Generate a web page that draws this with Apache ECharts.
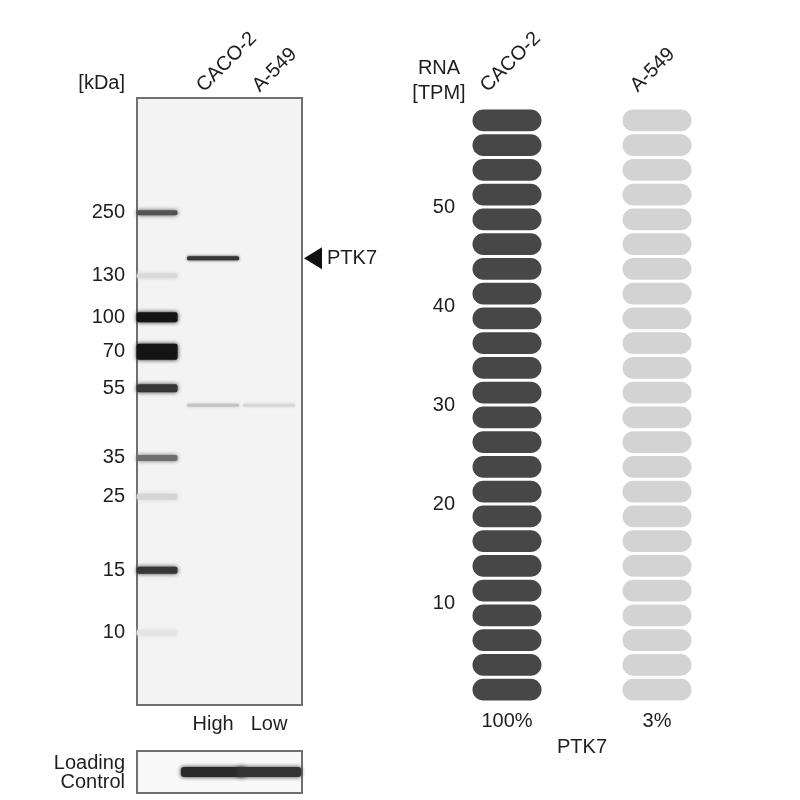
<!DOCTYPE html>
<html><head><meta charset="utf-8">
<script src="https://cdn.jsdelivr.net/npm/echarts@6/dist/echarts.min.js"></script>
<style>html,body{margin:0;padding:0;background:#fff}#c{width:800px;height:800px}</style>
</head><body><div id="c"></div>
<script>
// ---------------- DATA ----------------
const laneNames = ['Ladder', 'CACO-2', 'A-549'];
const laneExpression = ['', 'High', 'Low'];
const ladderKDa = [250, 130, 100, 70, 55, 35, 25, 15, 10];
const ladderMigration = [18.9, 29.3, 36.1, 41.8, 47.8, 59.3, 65.7, 77.8, 88.1];
const ladderIntensity = [0.72, 0.12, 1.0, 1.0, 0.85, 0.6, 0.14, 0.85, 0.07];
const sampleBandLane = [1, 1, 2];
const sampleBandMigration = [26.4, 50.6, 50.6];
const sampleBandIntensity = [0.85, 0.22, 0.13];
const targetName = 'PTK7';
const targetBandIndex = 0;
const loadingLane = [1, 2];
const loadingIntensity = [0.9, 0.86];

const rnaCells = ['CACO-2', 'A-549'];
const rnaTPM = [60, 1.8];
const rnaPercent = ['100%', '3%'];
const rnaTicks = [10, 20, 30, 40, 50];
const rnaAxisMax = 60;
const rnaPillStep = 2.5;

// ---------------- STYLE ----------------
const STYLE = {
  ladderWidth: 0.73,
  ladderThickness: [5, 5, 10, 16, 8, 6, 6, 7, 6],
  sampleWidth: 0.93,
  sampleThickness: [4, 3, 3],
  loadingWidth: 1.15,
  loadingThickness: 10,
  pillWidth: 69,
  pillGap: 3,
  dark: '#474747',
  light: '#d3d3d3'
};
const FONT = '"Liberation Sans", Arial, sans-serif';
const FS = 20;
const TXT = '#1e1e1e';
function gray(i) { const v = Math.round(244 - i * (244 - 20)); return 'rgb(' + v + ',' + v + ',' + v + ')'; }
function nearestIdx(arr, v) { let b = 0; arr.forEach((a, i) => { if (Math.abs(a - v) < Math.abs(arr[b] - v)) b = i; }); return b; }

const chart = echarts.init(document.getElementById('c'), null, { renderer: 'canvas' });

const option = {
  animation: false,
  backgroundColor: '#fff',
  grid: [
    { left: 137, top: 98, width: 165, height: 607, show: true, backgroundColor: '#f3f3f3', borderColor: '#707070', borderWidth: 2 },
    { left: 137, top: 751, width: 165, height: 42, show: true, backgroundColor: '#f8f8f8', borderColor: '#707070', borderWidth: 2 },
    { left: 507, top: 108, width: 150, height: 594, show: false }
  ],
  xAxis: [
    { gridIndex: 0, type: 'value', min: -0.36, max: 2.59, position: 'bottom',
      axisLine: { show: false }, axisTick: { show: false }, splitLine: { show: false },
      axisLabel: { customValues: [1, 2], formatter: v => laneExpression[Math.round(v)], margin: 9,
        fontSize: FS, fontFamily: FONT, color: TXT } },
    { gridIndex: 1, type: 'value', min: -0.36, max: 2.59, show: false },
    { gridIndex: 2, type: 'category', data: rnaCells, boundaryGap: false, position: 'bottom',
      axisLine: { show: false }, axisTick: { show: false }, splitLine: { show: false },
      axisLabel: { formatter: (v, i) => rnaPercent[i], margin: 9, fontSize: FS, fontFamily: FONT, color: TXT },
      name: targetName, nameLocation: 'middle', nameGap: 35,
      nameTextStyle: { fontSize: FS, fontFamily: FONT, color: TXT } }
  ],
  yAxis: [
    { gridIndex: 0, type: 'value', inverse: true, min: 0, max: 100,
      axisLine: { show: false }, axisTick: { show: false }, splitLine: { show: false },
      axisLabel: { customValues: ladderMigration, formatter: v => String(ladderKDa[nearestIdx(ladderMigration, v)]),
        margin: 12, fontSize: FS, fontFamily: FONT, color: TXT } },
    { gridIndex: 1, type: 'value', min: 0, max: 1, show: false },
    { gridIndex: 2, type: 'value', min: 0, max: rnaAxisMax,
      axisLine: { show: false }, axisTick: { show: false }, splitLine: { show: false },
      axisLabel: { customValues: rnaTicks, margin: 52, fontSize: FS, fontFamily: FONT, color: TXT } }
  ],
  series: [
    { // ladder
      type: 'custom', xAxisIndex: 0, yAxisIndex: 0,
      data: ladderKDa.map((k, i) => [0, ladderMigration[i], i, ladderIntensity[i]]),
      encode: { x: 0, y: 1 },
      renderItem: (params, api) => {
        const i = api.value(2);
        const c = api.coord([api.value(0), api.value(1)]);
        const w = api.size([STYLE.ladderWidth, 0])[0];
        const h = STYLE.ladderThickness[i];
        const col = gray(api.value(3));
        return { type: 'rect', shape: { x: c[0] - w / 2, y: c[1] - h / 2, width: w, height: h, r: 2 },
          style: { fill: col, shadowBlur: 4, shadowColor: col } };
      }
    },
    { // sample bands
      type: 'custom', xAxisIndex: 0, yAxisIndex: 0,
      data: sampleBandLane.map((l, i) => [l, sampleBandMigration[i], i, sampleBandIntensity[i]]),
      encode: { x: 0, y: 1 },
      renderItem: (params, api) => {
        const i = api.value(2);
        const c = api.coord([api.value(0), api.value(1)]);
        const w = api.size([STYLE.sampleWidth, 0])[0];
        const h = STYLE.sampleThickness[i];
        const col = gray(api.value(3));
        const children = [{ type: 'rect', shape: { x: c[0] - w / 2, y: c[1] - h / 2, width: w, height: h, r: 1.5 },
          style: { fill: col, shadowBlur: 3, shadowColor: col } }];
        if (i === targetBandIndex) {
          const rx = params.coordSys.x + params.coordSys.width;
          children.push({ type: 'polygon', shape: { points: [[rx + 2, c[1]], [rx + 20, c[1] - 11], [rx + 20, c[1] + 11]] },
            style: { fill: '#111' } });
          children.push({ type: 'text', x: rx + 25, y: c[1], style: { text: targetName, font: FS + 'px ' + FONT,
            fill: TXT, textAlign: 'left', textVerticalAlign: 'middle' } });
        }
        return { type: 'group', children };
      }
    },
    { // loading control
      type: 'custom', xAxisIndex: 1, yAxisIndex: 1,
      data: loadingLane.map((l, i) => [l, 0.5, loadingIntensity[i]]),
      encode: { x: 0, y: 1 },
      renderItem: (params, api) => {
        const c = api.coord([api.value(0), api.value(1)]);
        const w = api.size([STYLE.loadingWidth, 0])[0];
        const h = STYLE.loadingThickness;
        const col = gray(api.value(2));
        const cs = params.coordSys;
        const x0 = Math.max(c[0] - w / 2, cs.x), x1 = Math.min(c[0] + w / 2, cs.x + cs.width);
        return { type: 'rect', shape: { x: x0, y: c[1] - h / 2, width: x1 - x0, height: h, r: 3 },
          style: { fill: col, shadowBlur: 4, shadowColor: col } };
      }
    },
    { // RNA pills
      type: 'custom', xAxisIndex: 2, yAxisIndex: 2,
      data: rnaCells.map((c, i) => [i, rnaTPM[i]]),
      encode: { x: 0, y: 1 },
      renderItem: (params, api) => {
        const cell = api.value(0), tpm = api.value(1);
        const n = Math.round(rnaAxisMax / rnaPillStep);
        const children = [];
        for (let k = 0; k < n; k++) {
          const lo = k * rnaPillStep, hi = (k + 1) * rnaPillStep;
          const pTop = api.coord([cell, hi]);
          const pBot = api.coord([cell, lo]);
          const h = (pBot[1] - pTop[1]) - STYLE.pillGap;
          const w = STYLE.pillWidth;
          const filled = tpm >= hi - 1e-6;
          children.push({ type: 'rect', shape: { x: pTop[0] - w / 2, y: pTop[1] + STYLE.pillGap / 2, width: w, height: h, r: h / 2 },
            style: { fill: filled ? STYLE.dark : STYLE.light } });
        }
        return { type: 'group', children };
      }
    }
  ]
};
chart.setOption(option);

// headers & rotated lane names
const gfx = [];
gfx.push({ type: 'text', x: 125, y: 83, style: { text: '[kDa]', font: FS + 'px ' + FONT, fill: TXT, textAlign: 'right', textVerticalAlign: 'middle' } });
gfx.push({ type: 'text', x: 125, y: 763, style: { text: 'Loading', font: FS + 'px ' + FONT, fill: TXT, textAlign: 'right', textVerticalAlign: 'middle' } });
gfx.push({ type: 'text', x: 125, y: 782, style: { text: 'Control', font: FS + 'px ' + FONT, fill: TXT, textAlign: 'right', textVerticalAlign: 'middle' } });
gfx.push({ type: 'text', x: 439, y: 68, style: { text: 'RNA', font: FS + 'px ' + FONT, fill: TXT, textAlign: 'center', textVerticalAlign: 'middle' } });
gfx.push({ type: 'text', x: 439, y: 93, style: { text: '[TPM]', font: FS + 'px ' + FONT, fill: TXT, textAlign: 'center', textVerticalAlign: 'middle' } });
[1, 2].forEach(l => {
  const px = chart.convertToPixel({ xAxisIndex: 0 }, l);
  gfx.push({ type: 'text', x: px - 6, y: 96, rotation: Math.PI / 4,
    style: { text: laneNames[l], font: FS + 'px ' + FONT, fill: TXT, textAlign: 'left', textVerticalAlign: 'bottom' } });
});
rnaCells.forEach((c, i) => {
  const px = chart.convertToPixel({ xAxisIndex: 2 }, i);
  gfx.push({ type: 'text', x: px - 16, y: 96, rotation: Math.PI / 4,
    style: { text: c, font: FS + 'px ' + FONT, fill: TXT, textAlign: 'left', textVerticalAlign: 'bottom' } });
});
chart.setOption({ graphic: gfx });
</script>
</body></html>
